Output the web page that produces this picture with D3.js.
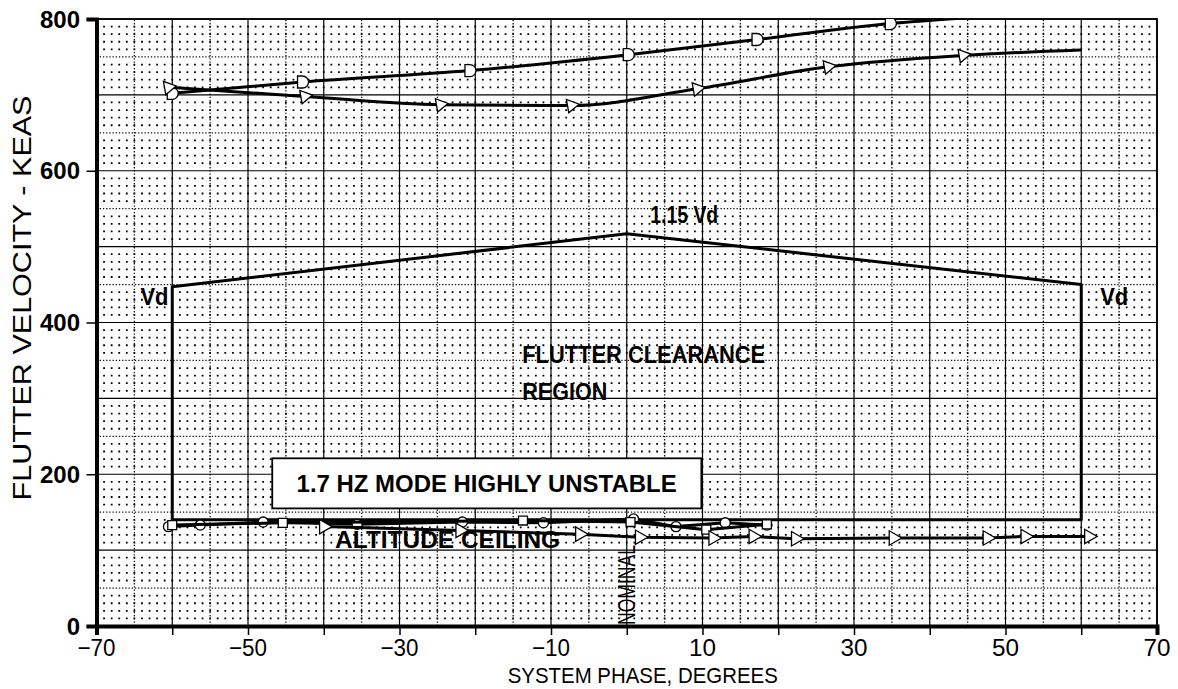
<!DOCTYPE html>
<meta charset='utf-8'>
<title>flutter clearance</title>
<style>
  body { margin: 0; background: #fff; width: 1178px; height: 689px; overflow: hidden }
  svg { display: block }
  text { font-family: 'Liberation Sans', Arial, Helvetica, sans-serif; fill: #000 }
  .curve { fill: none; stroke: #000; stroke-width: 3px; stroke-linejoin: round }
  .mark { fill: #fff; stroke: #000; stroke-width: 1.3px }
  .bold { font-weight: bold }
</style>
<body>
<script src='https://cdn.jsdelivr.net/npm/d3@7/dist/d3.min.js'></script>
<script>

  // axis ticks
  var phaseTicks = [-70, -60, -50, -40, -30, -20, -10, 0, 10, 20, 30, 40, 50, 60, 70]
  var phaseLabels = [-70, -50, -30, -10, 10, 30, 50, 70]
  var velLabels = [0, 200, 400, 600, 800]

  // flutter clearance region (Vd, 1.15 Vd, altitude ceiling)
  var regionPhase = [-60, -60, 0, 60, 60]
  var regionVel = [140, 447, 517, 450, 140]

  // upper flutter curves
  var curveAPhase = [-60, -42.8, -20.7, 0.2, 17.2, 34.8, 44]
  var curveAVel = [702, 717, 732, 753, 773, 794, 801]
  var curveBPhase = [-60.5, -42.5, -24.6, -7.3, 9.3, 26.6, 44.4, 60]
  var curveBVel = [710, 698, 687, 686, 708, 737, 752, 759]

  // low speed (1.7 Hz) curves
  var curveCPhase = [-60.5, -56.3, -48, -35.6, -21.7, -11, 0.9, 6.5, 13, 18.5]
  var curveCVel = [131, 133, 137, 134, 137, 136, 141, 131, 136, 133]
  var curveDPhase = [-60, -45.4, -13.7, 0.5, 10.5, 18.5]
  var curveDVel = [133, 136, 139, 137, 127, 134]
  var curveEPhase = [-40, -22, -6.2, 1.7, 11.4, 16.7, 22.3, 35.2, 47.6, 52.6, 61]
  var curveEVel = [131, 126, 121, 117, 116, 118, 115, 116, 116, 118, 118]

  var W = 1178, H = 689
  var x = d3.scaleLinear().domain([-70, 70]).range([96.5, 1157])
  var y = d3.scaleLinear().domain([0, 800]).range([626, 19])

  var svg = d3.select('body').append('svg').attr('width', W).attr('height', H)

  svg.append('clipPath').attr('id', 'plot')
    .append('rect')
    .attr('x', x(-70)).attr('y', y(800))
    .attr('width', x(70) - x(-70)).attr('height', y(0) - y(800))

  /* ------- GRID -------*/
  var grid = svg.append('g')
  var unit = x(1) - x(0)

  // dot grid: every 1 deg by every 10 keas
  grid.selectAll('line.dots')
    .data(d3.range(10, 800, 10).filter(function(v) { return v % 50 })).enter()
    .append('line')
    .attr('x1', x(-70)).attr('x2', x(70))
    .attr('y1', y).attr('y2', y)
    .attr('stroke', '#000').attr('stroke-width', 1.8)
    .attr('stroke-dasharray', '1.8,' + (unit - 1.8))
    .attr('stroke-dashoffset', 0.9)

  // dotted half lines
  grid.selectAll('line.vdot')
    .data(d3.range(-65, 70, 10)).enter()
    .append('line')
    .attr('x1', x).attr('x2', x)
    .attr('y1', y(0)).attr('y2', y(800))
    .attr('stroke', '#111').attr('stroke-width', 1.3)
    .attr('stroke-dasharray', '1.3,1.9')
  grid.selectAll('line.hdot')
    .data(d3.range(50, 800, 100)).enter()
    .append('line')
    .attr('x1', x(-70)).attr('x2', x(70))
    .attr('y1', y).attr('y2', y)
    .attr('stroke', '#111').attr('stroke-width', 1.3)
    .attr('stroke-dasharray', '1.3,1.9')

  // solid grid
  grid.selectAll('line.vsol')
    .data(phaseTicks).enter()
    .append('line')
    .attr('x1', x).attr('x2', x)
    .attr('y1', y(0)).attr('y2', y(800))
    .attr('stroke', '#000').attr('stroke-width', 1.2)
  grid.selectAll('line.hsol')
    .data(d3.range(100, 801, 100)).enter()
    .append('line')
    .attr('x1', x(-70)).attr('x2', x(70))
    .attr('y1', y).attr('y2', y)
    .attr('stroke', '#000').attr('stroke-width', 1.2)

  // frame
  svg.append('rect')
    .attr('x', x(-70)).attr('y', y(800))
    .attr('width', x(70) - x(-70)).attr('height', y(0) - y(800))
    .attr('fill', 'none').attr('stroke', '#000').attr('stroke-width', 1.8)

  /* ------- AXES -------*/
  var xAxis = svg.append('g')
    .attr('transform', 'translate(0,' + y(0) + ')')
    .call(d3.axisBottom(x).tickValues(phaseTicks).tickSize(9).tickFormat(''))
  xAxis.select('.domain').attr('stroke-width', 4)
  xAxis.selectAll('.tick line').attr('stroke-width', 1.5)

  svg.selectAll('text.xlab')
    .data(phaseLabels).enter()
    .append('text')
    .attr('x', x).attr('y', 656)
    .attr('text-anchor', 'middle')
    .attr('textLength', function(d) { return d < 0 ? 38 : 27 })
    .attr('lengthAdjust', 'spacingAndGlyphs')
    .style('font-size', '24px')
    .text(function(d) { return d < 0 ? '\u2212' + (-d) : d })

  var yAxis = svg.append('g')
    .attr('transform', 'translate(' + x(-70) + ',0)')
    .call(d3.axisLeft(y).tickValues(velLabels).tickSize(10).tickFormat(''))
  yAxis.select('.domain').attr('stroke-width', 4)
  yAxis.selectAll('.tick line').attr('stroke-width', 1.5)

  svg.selectAll('text.ylab')
    .data(velLabels).enter()
    .append('text')
    .attr('class', 'bold')
    .attr('x', 80).attr('y', function(d) { return y(d) + 8.5 })
    .attr('text-anchor', 'end')
    .style('font-size', '24px')
    .text(function(d) { return d })

  svg.append('text')
    .attr('x', x(0) + 16).attr('y', 683)
    .attr('text-anchor', 'middle')
    .attr('textLength', 270).attr('lengthAdjust', 'spacingAndGlyphs')
    .style('font-size', '22px')
    .text('SYSTEM PHASE, DEGREES')

  svg.append('text')
    .attr('transform', 'translate(31,298) rotate(-90)')
    .attr('text-anchor', 'middle')
    .attr('textLength', 405).attr('lengthAdjust', 'spacingAndGlyphs')
    .style('font-size', '25px')
    .text('FLUTTER VELOCITY - KEAS')

  /* ------- ANNOTATION BOX -------*/
  svg.append('rect')
    .attr('x', x(-46.8)).attr('y', y(221))
    .attr('width', x(9.85) - x(-46.8)).attr('height', y(155) - y(221))
    .attr('fill', '#fff').attr('stroke', '#000').attr('stroke-width', 1.8)
  svg.append('text')
    .attr('class', 'bold')
    .attr('x', x(-18.5)).attr('y', y(188) + 8.5)
    .attr('text-anchor', 'middle')
    .attr('textLength', 380).attr('lengthAdjust', 'spacingAndGlyphs')
    .style('font-size', '24px')
    .text('1.7 HZ MODE HIGHLY UNSTABLE')

  /* ------- CURVES -------*/
  var plot = svg.append('g').attr('clip-path', 'url(#plot)')

  var smooth = d3.line()
    .x(function(d) { return x(d[0]) })
    .y(function(d) { return y(d[1]) })
    .curve(d3.curveMonotoneX)
  var straight = d3.line()
    .x(function(d) { return x(d[0]) })
    .y(function(d) { return y(d[1]) })

  function pairs(ph, v) { return ph.map(function(p, i) { return [p, v[i]] }) }

  var halfDisc = 'M-5,-6L0,-6A6,6 0 0 1 0,6L-5,6Z'
  var series = [
    { pts: pairs(curveAPhase, curveAVel), line: smooth, shape: halfDisc, rot: 0, skipLast: true },
    { pts: pairs(curveBPhase, curveBVel), line: smooth, shape: d3.symbol(d3.symbolTriangle, 80)(), rot: 200, skipLast: true },
    { pts: pairs(curveCPhase, curveCVel), line: straight, shape: d3.symbol(d3.symbolCircle, 80)(), rot: 0 },
    { pts: pairs(curveDPhase, curveDVel), line: straight, shape: d3.symbol(d3.symbolSquare, 80)(), rot: 0 },
    { pts: pairs(curveEPhase, curveEVel), line: straight, shape: d3.symbol(d3.symbolTriangle, 90)(), rot: 90 }
  ]

  // region outline
  plot.append('path')
    .attr('class', 'curve')
    .attr('d', straight(pairs(regionPhase, regionVel)) + 'Z')

  series.forEach(function(s) {
    plot.append('path').attr('class', 'curve').attr('d', s.line(s.pts))
    var pts = s.skipLast ? s.pts.slice(0, -1) : s.pts
    plot.selectAll(null)
      .data(pts).enter()
      .append('path')
      .attr('class', 'mark')
      .attr('d', s.shape)
      .attr('transform', function(d) {
        return 'translate(' + x(d[0]) + ',' + y(d[1]) + ') rotate(' + s.rot + ')'
      })
  })

  /* ------- LABELS -------*/
  function label(txt, px, vy, size, len, anchor) {
    svg.append('text')
      .attr('class', 'bold')
      .attr('x', px).attr('y', vy)
      .attr('text-anchor', anchor || 'start')
      .attr('textLength', len).attr('lengthAdjust', 'spacingAndGlyphs')
      .style('font-size', size + 'px')
      .text(txt)
  }
  label('1.15 Vd', x(3.1), y(542) + 8, 23, 68)
  label('Vd', x(-64.2), y(434) + 8, 23, 28)
  label('Vd', x(62.5), y(434) + 8, 23, 28)
  label('FLUTTER CLEARANCE', x(-13.8), y(357) + 8, 23, 243)
  label('REGION', x(-13.8), y(308) + 8, 23, 85)
  label('ALTITUDE CEILING', x(-38.5), y(113) + 8, 23, 225)

  svg.append('text')
    .attr('transform', 'translate(' + (x(0) + 8) + ',' + (y(0) - 1) + ') rotate(-90)')
    .attr('textLength', 80).attr('lengthAdjust', 'spacingAndGlyphs')
    .style('font-size', '24px')
    .text('NOMINAL')

</script>
</body>
